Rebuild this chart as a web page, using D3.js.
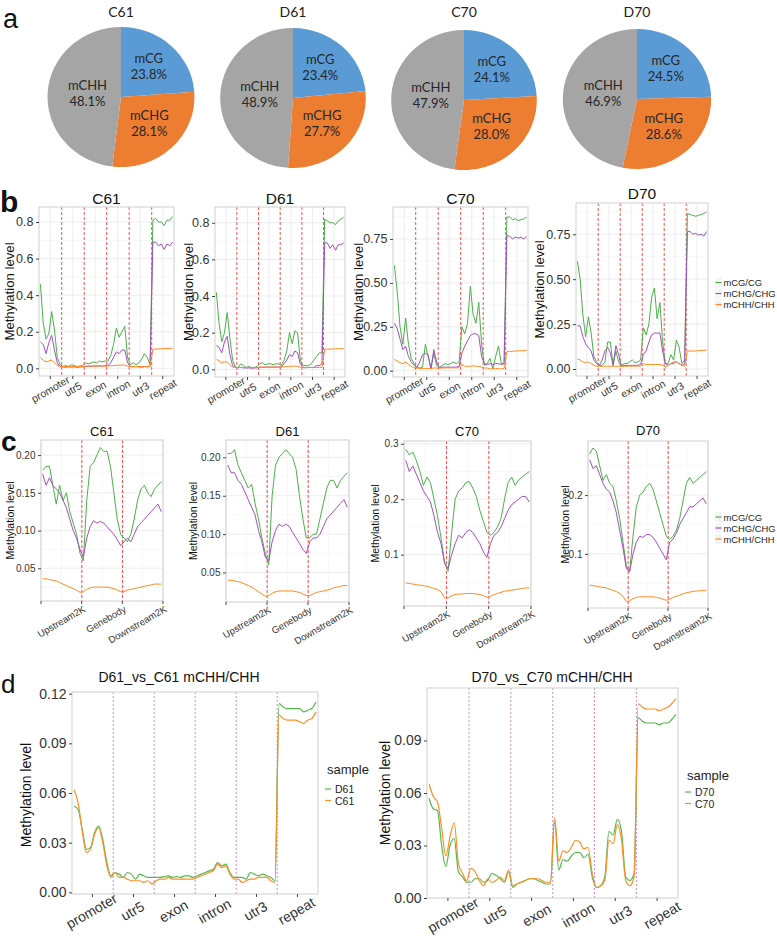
<!DOCTYPE html>
<html><head><meta charset="utf-8">
<script src="https://cdn.jsdelivr.net/npm/d3@7"></script>
<style>body{margin:0;background:#fff}svg{display:block}</style>
</head><body>
<script>
// ---------------- DATA ----------------
const pieSamples = ["C61","D61","C70","D70"];
const pieCategories = ["mCG","mCHG","mCHH"];
const pieC61 = [23.8, 28.1, 48.1];
const pieD61 = [23.4, 27.7, 48.9];
const pieC70 = [24.1, 28.0, 47.9];
const pieD70 = [24.5, 28.6, 46.9];

const featureRegions = ["promoter","utr5","exon","intron","utr3","repeat"];
const geneRegions = ["", "Upstream2K","Genebody","Downstream2K"];
const contextNames = ["mCG/CG","mCHG/CHG","mCHH/CHH"];

const bTicks61 = [0, 0.2, 0.4, 0.6, 0.8];
const bTicks70 = [0, 0.25, 0.5, 0.75];
const cTicks61 = [0.05, 0.10, 0.15, 0.20];
const cTicksC70 = [0.1, 0.2, 0.3];
const cTicksD70 = [0.1, 0.2];
const dTicksLeft = [0, 0.03, 0.06, 0.09, 0.12];
const dTicksRight = [0, 0.03, 0.06, 0.09];

// panel b (8 bins per region)
const bC61_CG = [0.46,0.25,0.16,0.19,0.31,0.21,0.06,0.02, 0.01,0.015,0.01,0.02,0.015,0.01,0.012,0.015, 0.03,0.025,0.03,0.035,0.03,0.04,0.035,0.04, 0.04,0.07,0.13,0.22,0.17,0.2,0.23,0.06, 0.02,0.03,0.02,0.03,0.05,0.08,0.06,0.02, 0.81,0.82,0.80,0.80,0.78,0.81,0.81,0.83];
const bC61_CHG = [0.145,0.13,0.08,0.14,0.18,0.1,0.03,0.01, 0.008,0.006,0.008,0.007,0.008,0.006,0.007,0.008, 0.01,0.012,0.011,0.013,0.012,0.013,0.012,0.014, 0.015,0.03,0.06,0.09,0.08,0.1,0.1,0.03, 0.01,0.008,0.01,0.008,0.006,0.01,0.008,0.01, 0.69,0.69,0.67,0.68,0.65,0.68,0.67,0.69];
const bC61_CHH = [0.06,0.045,0.035,0.04,0.045,0.03,0.015,0.012, 0.01,0.01,0.01,0.01,0.01,0.01,0.01,0.01, 0.012,0.012,0.012,0.012,0.012,0.012,0.012,0.012, 0.013,0.014,0.015,0.016,0.017,0.018,0.017,0.012, 0.01,0.01,0.01,0.01,0.01,0.01,0.01,0.01, 0.105,0.105,0.106,0.107,0.108,0.108,0.109,0.11];
const bD61_CG = [0.42,0.25,0.15,0.2,0.31,0.17,0.05,0.012, 0.01,0.03,0.02,0.01,0.015,0.01,0.01,0.015, 0.03,0.035,0.025,0.03,0.03,0.025,0.03,0.03, 0.02,0.05,0.1,0.2,0.14,0.21,0.2,0.05, 0.02,0.02,0.02,0.03,0.05,0.07,0.09,0.09, 0.82,0.81,0.80,0.80,0.79,0.81,0.82,0.83];
const bD61_CHG = [0.13,0.12,0.09,0.15,0.18,0.08,0.02,0.01, 0.008,0.01,0.008,0.007,0.008,0.006,0.007,0.008, 0.01,0.012,0.011,0.012,0.012,0.012,0.012,0.013, 0.012,0.03,0.05,0.08,0.07,0.1,0.09,0.03, 0.01,0.008,0.01,0.01,0.01,0.02,0.02,0.03, 0.69,0.69,0.66,0.68,0.65,0.68,0.68,0.69];
const bD61_CHH = [0.055,0.045,0.035,0.04,0.04,0.025,0.012,0.01, 0.01,0.01,0.01,0.01,0.01,0.01,0.01,0.01, 0.012,0.012,0.012,0.012,0.012,0.012,0.012,0.012, 0.012,0.014,0.015,0.016,0.017,0.017,0.016,0.012, 0.01,0.01,0.01,0.01,0.01,0.01,0.01,0.01, 0.11,0.11,0.11,0.111,0.112,0.112,0.113,0.113];
const bC70_CG = [0.6,0.45,0.25,0.15,0.3,0.15,0.07,0.04, 0.02,0.015,0.02,0.15,0.08,0.01,0.1,0.03, 0.02,0.03,0.04,0.035,0.04,0.05,0.04,0.05, 0.25,0.21,0.27,0.48,0.32,0.27,0.39,0.15, 0.03,0.04,0.07,0.01,0.08,0.14,0.04,0.04, 0.875,0.875,0.86,0.865,0.855,0.86,0.865,0.875];
const bC70_CHG = [0.27,0.24,0.18,0.12,0.14,0.08,0.05,0.03, 0.02,0.05,0.09,0.1,0.09,0.01,0.12,0.05, 0.015,0.02,0.02,0.02,0.02,0.02,0.02,0.025, 0.1,0.14,0.17,0.2,0.21,0.21,0.2,0.08, 0.04,0.035,0.04,0.035,0.04,0.04,0.035,0.04, 0.77,0.765,0.75,0.76,0.755,0.76,0.75,0.765];
const bC70_CHH = [0.065,0.055,0.045,0.04,0.05,0.035,0.025,0.015, 0.015,0.012,0.012,0.012,0.012,0.012,0.015,0.015, 0.015,0.015,0.015,0.016,0.016,0.016,0.016,0.017, 0.035,0.025,0.025,0.025,0.028,0.025,0.025,0.02, 0.015,0.015,0.01,0.01,0.012,0.012,0.01,0.012, 0.11,0.11,0.11,0.112,0.113,0.113,0.114,0.115];
const bD70_CG = [0.6,0.5,0.3,0.18,0.29,0.2,0.07,0.04, 0.02,0.02,0.04,0.15,0.15,0.02,0.1,0.04, 0.02,0.03,0.03,0.04,0.05,0.035,0.04,0.05, 0.23,0.19,0.25,0.4,0.45,0.28,0.37,0.15, 0.03,0.03,0.08,0.05,0.16,0.12,0.03,0.05, 0.865,0.86,0.855,0.85,0.855,0.86,0.865,0.875];
const bD70_CHG = [0.24,0.24,0.18,0.14,0.12,0.1,0.05,0.03, 0.02,0.05,0.1,0.12,0.09,0.02,0.13,0.08, 0.015,0.02,0.02,0.02,0.02,0.02,0.02,0.025, 0.08,0.1,0.15,0.19,0.2,0.2,0.2,0.1, 0.03,0.02,0.03,0.03,0.04,0.03,0.02,0.03, 0.765,0.765,0.75,0.755,0.745,0.75,0.74,0.765];
const bD70_CHH = [0.055,0.05,0.04,0.035,0.04,0.03,0.02,0.015, 0.015,0.015,0.015,0.015,0.015,0.015,0.015,0.015, 0.015,0.015,0.015,0.016,0.016,0.016,0.016,0.017, 0.03,0.025,0.025,0.025,0.025,0.025,0.025,0.02, 0.01,0.02,0.03,0.04,0.04,0.03,0.02,0.015, 0.1,0.1,0.1,0.1,0.102,0.103,0.104,0.105];

// panel c (12 bins per region)
const cC61_CG = [0.18,0.185,0.185,0.16,0.135,0.16,0.14,0.15,0.125,0.11,0.095,0.07, 0.06,0.14,0.185,0.19,0.2,0.21,0.205,0.205,0.185,0.15,0.115,0.095, 0.09,0.085,0.095,0.115,0.14,0.155,0.16,0.15,0.145,0.155,0.16,0.165];
const cC61_CHG = [0.175,0.16,0.17,0.16,0.155,0.15,0.14,0.13,0.115,0.1,0.09,0.075, 0.065,0.09,0.105,0.113,0.11,0.112,0.11,0.105,0.1,0.095,0.088,0.08, 0.085,0.09,0.085,0.095,0.105,0.11,0.115,0.12,0.125,0.13,0.135,0.125];
const cC61_CHH = [0.036,0.036,0.035,0.034,0.033,0.031,0.029,0.027,0.025,0.023,0.021,0.018, 0.019,0.022,0.024,0.025,0.025,0.025,0.025,0.025,0.024,0.023,0.021,0.019, 0.019,0.021,0.022,0.023,0.024,0.025,0.026,0.027,0.028,0.029,0.029,0.029];
const cD61_CG = [0.205,0.205,0.21,0.19,0.18,0.17,0.16,0.165,0.14,0.12,0.095,0.075, 0.06,0.15,0.19,0.2,0.205,0.21,0.205,0.2,0.185,0.15,0.12,0.095, 0.095,0.1,0.1,0.12,0.14,0.16,0.17,0.17,0.16,0.17,0.175,0.18];
const cD61_CHG = [0.19,0.18,0.18,0.17,0.165,0.155,0.145,0.135,0.125,0.105,0.09,0.07, 0.065,0.09,0.105,0.113,0.11,0.113,0.11,0.102,0.095,0.088,0.08,0.075, 0.09,0.095,0.095,0.1,0.11,0.12,0.125,0.13,0.135,0.14,0.145,0.135];
const cD61_CHH = [0.04,0.04,0.039,0.038,0.037,0.035,0.033,0.031,0.028,0.025,0.022,0.019, 0.02,0.023,0.025,0.026,0.026,0.026,0.026,0.026,0.025,0.024,0.022,0.02, 0.02,0.022,0.024,0.025,0.026,0.027,0.028,0.03,0.031,0.032,0.033,0.033];
const cC70_CG = [0.29,0.28,0.285,0.27,0.25,0.225,0.24,0.23,0.2,0.17,0.13,0.085, 0.07,0.14,0.2,0.215,0.22,0.23,0.232,0.22,0.205,0.18,0.16,0.14, 0.135,0.14,0.15,0.165,0.2,0.23,0.24,0.225,0.235,0.24,0.245,0.25];
const cC70_CHG = [0.27,0.25,0.26,0.245,0.23,0.215,0.205,0.195,0.17,0.14,0.12,0.085, 0.075,0.1,0.12,0.135,0.13,0.14,0.145,0.14,0.13,0.12,0.105,0.095, 0.12,0.135,0.14,0.15,0.165,0.18,0.19,0.195,0.2,0.205,0.205,0.195];
const cC70_CHH = [0.049,0.048,0.047,0.046,0.045,0.044,0.043,0.041,0.039,0.037,0.033,0.022, 0.022,0.026,0.028,0.029,0.029,0.03,0.03,0.03,0.029,0.028,0.026,0.023, 0.025,0.028,0.03,0.032,0.034,0.035,0.036,0.037,0.038,0.039,0.04,0.04];
const cD70_CG = [0.27,0.28,0.275,0.25,0.225,0.235,0.22,0.215,0.19,0.16,0.12,0.08, 0.07,0.13,0.18,0.2,0.205,0.215,0.22,0.21,0.19,0.17,0.15,0.13, 0.125,0.13,0.14,0.16,0.19,0.22,0.23,0.22,0.225,0.23,0.235,0.24];
const cD70_CHG = [0.26,0.245,0.25,0.235,0.22,0.21,0.205,0.19,0.17,0.14,0.11,0.075, 0.07,0.1,0.12,0.13,0.128,0.133,0.133,0.128,0.12,0.11,0.1,0.09, 0.12,0.125,0.135,0.15,0.16,0.17,0.18,0.18,0.185,0.19,0.195,0.185];
const cD70_CHH = [0.047,0.046,0.045,0.044,0.043,0.042,0.04,0.038,0.036,0.033,0.028,0.019, 0.02,0.024,0.026,0.027,0.027,0.027,0.027,0.027,0.026,0.025,0.023,0.021, 0.023,0.026,0.028,0.03,0.032,0.034,0.035,0.036,0.037,0.037,0.038,0.038];

// panel d (10 bins per region), mCHH/CHH
const dD61 = [0.052,0.05,0.038,0.026,0.027,0.036,0.04,0.032,0.018,0.01, 0.012,0.011,0.009,0.012,0.011,0.008,0.011,0.01,0.009,0.009, 0.009,0.009,0.0095,0.01,0.009,0.0095,0.009,0.01,0.01,0.009, 0.01,0.011,0.012,0.013,0.014,0.018,0.016,0.017,0.012,0.009, 0.009,0.009,0.008,0.012,0.011,0.01,0.011,0.01,0.009,0.007, 0.114,0.112,0.111,0.111,0.111,0.111,0.109,0.11,0.111,0.115];
const dC61 = [0.062,0.054,0.037,0.024,0.026,0.035,0.039,0.03,0.016,0.009, 0.012,0.009,0.009,0.008,0.007,0.007,0.007,0.006,0.007,0.005, 0.007,0.008,0.008,0.009,0.008,0.008,0.008,0.008,0.008,0.008, 0.009,0.01,0.011,0.012,0.013,0.017,0.015,0.016,0.011,0.008, 0.008,0.006,0.007,0.008,0.008,0.009,0.009,0.009,0.007,0.006, 0.107,0.105,0.104,0.104,0.104,0.103,0.102,0.104,0.105,0.109];
const dD70 = [0.057,0.051,0.05,0.03,0.018,0.03,0.034,0.015,0.012,0.009, 0.009,0.011,0.011,0.009,0.01,0.014,0.013,0.011,0.009,0.015, 0.006,0.008,0.009,0.01,0.011,0.011,0.01,0.009,0.008,0.008, 0.044,0.016,0.022,0.021,0.024,0.026,0.026,0.023,0.025,0.012, 0.006,0.007,0.012,0.038,0.036,0.045,0.038,0.012,0.01,0.014, 0.103,0.101,0.1,0.1,0.1,0.099,0.1,0.1,0.102,0.105];
const dC70 = [0.065,0.058,0.055,0.04,0.024,0.035,0.043,0.02,0.014,0.01, 0.017,0.015,0.01,0.007,0.011,0.009,0.01,0.012,0.01,0.016, 0.007,0.008,0.009,0.01,0.011,0.011,0.011,0.01,0.009,0.009, 0.046,0.021,0.027,0.026,0.029,0.033,0.032,0.028,0.029,0.014, 0.006,0.007,0.01,0.033,0.031,0.042,0.033,0.01,0.007,0.012, 0.111,0.109,0.108,0.108,0.108,0.107,0.108,0.109,0.111,0.114];

// ---------------- STYLE ----------------
const GG = "'Liberation Sans', Arial, sans-serif";
const PF = "Lato, 'Open Sans', sans-serif";
const pieColors = ["#5b9bd5", "#ed7d31", "#a5a5a5"];
const ctxColors = ["#4daf4a", "#a24fc2", "#ff8a1f"];
const dColors = ["#55b84e", "#ff8f26"];

const svg = d3.select("body").append("svg").attr("width", 777).attr("height", 939)
  .style("background", "#fff");

// panel letters
svg.append("text").attr("x", 3).attr("y", 28).text("a").attr("font-family", GG).attr("font-size", 27).attr("fill", "#111");
svg.append("text").attr("x", 0).attr("y", 212).text("b").attr("font-family", GG).attr("font-size", 30).attr("font-weight", "bold").attr("fill", "#111");
svg.append("text").attr("x", 1).attr("y", 451).text("c").attr("font-family", GG).attr("font-size", 28).attr("font-weight", "bold").attr("fill", "#111");
svg.append("text").attr("x", 1).attr("y", 693).text("d").attr("font-family", GG).attr("font-size", 26).attr("fill", "#111");

// ---------------- PIES ----------------
const pieData = [pieC61, pieD61, pieC70, pieD70];
const pieLayout = [{cx:121, cy:97, sx:1.05}, {cx:293, cy:98, sx:1.04}, {cx:464, cy:100, sx:1.04}, {cx:637, cy:99, sx:1.06}];
const pieGen = d3.pie().sort(null).value(d => d);
const arcGen = d3.arc().innerRadius(0).outerRadius(70);
const labArc = d3.arc().innerRadius(0).outerRadius(78);
pieData.forEach((vals, k) => {
  const L = pieLayout[k];
  const arcs = pieGen(vals);
  const g = svg.append("g").attr("transform", `translate(${L.cx},${L.cy}) scale(${L.sx},1)`);
  g.selectAll("path").data(arcs).join("path").attr("d", arcGen).attr("fill", (d, i) => pieColors[i]);
  svg.append("text").attr("x", L.cx).attr("y", 17).attr("text-anchor", "middle")
    .attr("font-family", PF).attr("font-size", 14).attr("fill", "#222").text(pieSamples[k]);
  arcs.forEach((a, i) => {
    let c = labArc.centroid(a);
    if (i === 2) c = [c[0] * 0.82, c[1] * 0.82];
    const tx = L.cx + c[0] * L.sx, ty = L.cy + c[1];
    const t = svg.append("text").attr("text-anchor", "middle").attr("font-family", PF)
      .attr("font-size", 13).attr("fill", "#262626");
    t.append("tspan").attr("x", tx).attr("y", ty - 5.5).text(pieCategories[i]);
    t.append("tspan").attr("x", tx).attr("y", ty + 10.5).text(vals[i].toFixed(1) + "%");
  });
});

// ---------------- GGPLOT-LIKE PANEL ----------------
function ggPanel(p) {
  const g = svg.append("g");
  const x = d3.scaleLinear().domain([0, p.nReg]).range([p.x0, p.x1]);
  const y = d3.scaleLinear().domain(p.yDomain).range([p.y1, p.y0]);
  g.append("rect").attr("x", p.x0).attr("y", p.y0).attr("width", p.x1 - p.x0).attr("height", p.y1 - p.y0).attr("fill", "#fff");
  if (p.grid) {
    const st = p.yTicks[1] - p.yTicks[0];
    const minorY = [];
    for (let v = p.yTicks[0] - st / 2; v <= p.yDomain[1]; v += st / 2) {
      if (v >= p.yDomain[0] && !p.yTicks.some(t => Math.abs(t - v) < 1e-9)) minorY.push(v);
    }
    g.selectAll(null).data(minorY).join("line").attr("x1", p.x0).attr("x2", p.x1)
      .attr("y1", d => y(d)).attr("y2", d => y(d)).attr("stroke", "#f4f4f4").attr("stroke-width", 0.6);
    g.selectAll(null).data(p.yTicks).join("line").attr("x1", p.x0).attr("x2", p.x1)
      .attr("y1", d => y(d)).attr("y2", d => y(d)).attr("stroke", "#ebebeb").attr("stroke-width", 0.9);
    g.selectAll(null).data(p.xMinor).join("line").attr("y1", p.y0).attr("y2", p.y1)
      .attr("x1", d => x(d)).attr("x2", d => x(d)).attr("stroke", "#f4f4f4").attr("stroke-width", 0.6);
    g.selectAll(null).data(p.xTicks).join("line").attr("y1", p.y0).attr("y2", p.y1)
      .attr("x1", d => x(d)).attr("x2", d => x(d)).attr("stroke", "#ebebeb").attr("stroke-width", 0.9);
  }
  // region boundaries
  g.selectAll(null).data(d3.range(1, p.nReg)).join("line")
    .attr("x1", d => x(d) + 0.2).attr("x2", d => x(d) + 0.2).attr("y1", p.y0).attr("y2", p.y1)
    .attr("stroke", p.vColor).attr("stroke-width", 0.9).attr("stroke-dasharray", p.vDash);
  // series
  const line = d3.line().x((d, i) => x(Math.floor(i / p.bins) + ((i % p.bins) + 0.5) / p.bins)).y(d => y(d))
    .curve(p.curve || d3.curveLinear);
  p.series.forEach(s => {
    g.append("path").datum(s.values).attr("d", line).attr("fill", "none")
      .attr("stroke", s.color).attr("stroke-width", p.lw).attr("stroke-linejoin", "round");
  });
  // border
  g.append("rect").attr("x", p.x0).attr("y", p.y0).attr("width", p.x1 - p.x0).attr("height", p.y1 - p.y0)
    .attr("fill", "none").attr("stroke", "#cfcfcf").attr("stroke-width", 1);
  // y axis
  const ya = g.append("g").attr("transform", `translate(${p.x0},0)`)
    .call(d3.axisLeft(y).tickValues(p.yTicks).tickFormat(d3.format(p.yFmt)).tickSize(3).tickPadding(2.5));
  ya.select(".domain").remove();
  ya.selectAll("line").attr("stroke", "#444");
  ya.selectAll("text").attr("font-family", GG).attr("font-size", p.tickFs).attr("fill", "#333");
  // x ticks and labels
  g.selectAll(null).data(p.xTicks).join("line").attr("x1", d => x(d)).attr("x2", d => x(d))
    .attr("y1", p.y1).attr("y2", p.y1 + 3).attr("stroke", "#444");
  p.xTicks.forEach((v, i) => {
    const lab = p.xLabels[i];
    if (!lab) return;
    if (p.xMode === "end") {
      g.append("text").attr("transform", `translate(${x(v) + 1},${p.y1 + 4}) rotate(-30)`)
        .attr("text-anchor", "end").attr("dy", "0.72em").attr("font-family", GG)
        .attr("font-size", p.xFs).attr("fill", "#333").text(lab);
    } else {
      g.append("text").attr("transform", `translate(${x(v) + p.xdx},${p.y1 + p.xdy}) rotate(-30)`)
        .attr("text-anchor", "middle").attr("dominant-baseline", "central").attr("font-family", GG)
        .attr("font-size", p.xFs).attr("fill", "#333").text(lab);
    }
  });
  // title
  g.append("text").attr("x", p.tx).attr("y", p.ty).attr("text-anchor", "middle").attr("dominant-baseline", "central")
    .attr("font-family", GG).attr("font-size", p.titleFs).attr("fill", "#111").text(p.title);
  // y title
  g.append("text").attr("transform", `translate(${p.yx},${p.yy !== undefined ? p.yy : (p.y0 + p.y1) / 2}) rotate(-90)`)
    .attr("text-anchor", "middle").attr("dominant-baseline", "central")
    .attr("font-family", GG).attr("font-size", p.yTitleFs).attr("fill", "#111").text("Methylation level");
}

function legend(x, rows, names, colors, fs, kw, kh) {
  names.forEach((n, i) => {
    svg.append("rect").attr("x", x).attr("y", rows[i] - kh / 2).attr("width", kw).attr("height", kh)
      .attr("fill", "#f5f5f5").attr("stroke", "#fff").attr("stroke-width", 0.5);
    svg.append("line").attr("x1", x + 0.5).attr("x2", x + kw - 0.5).attr("y1", rows[i]).attr("y2", rows[i])
      .attr("stroke", colors[i]).attr("stroke-width", 1.2);
    svg.append("text").attr("x", x + kw + 1.5).attr("y", rows[i]).attr("dominant-baseline", "central")
      .attr("font-family", GG).attr("font-size", fs).attr("fill", "#222").text(n);
  });
}

// ---------------- PANEL b ----------------
const bCommon = {nReg: 6, bins: 8, grid: true, xTicks: [0.5,1.5,2.5,3.5,4.5,5.5], xMinor: [], xLabels: featureRegions,
  xMode: "center", xdx: 0, xdy: 13, xFs: 10.5, tickFs: 12.5, titleFs: 15.5, yTitleFs: 13.2, lw: 1,
  vColor: "#ff3b3b", vDash: "3,2"};
const bPanels = [
  {title: "C61", x0: 39, y0: 207, x1: 174, y1: 376, yDomain: [-0.042, 0.882], yTicks: bTicks61, yFmt: ".1f", tx: 106.5, ty: 198, yx: 9,
   s: [bC61_CG, bC61_CHG, bC61_CHH]},
  {title: "D61", x0: 215, y0: 207, x1: 345, y1: 377, yDomain: [-0.042, 0.886], yTicks: bTicks61, yFmt: ".1f", tx: 280, ty: 198, yx: 188,
   s: [bD61_CG, bD61_CHG, bD61_CHH]},
  {title: "C70", x0: 393, y0: 207, x1: 528, y1: 377, yDomain: [-0.036, 0.932], yTicks: bTicks70, yFmt: ".2f", tx: 460.5, ty: 198, yx: 358,
   s: [bC70_CG, bC70_CHG, bC70_CHH]},
  {title: "D70", x0: 576, y0: 203, x1: 708, y1: 376, yDomain: [-0.039, 0.924], yTicks: bTicks70, yFmt: ".2f", tx: 642, ty: 193, yx: 539,
   s: [bD70_CG, bD70_CHG, bD70_CHH]}
];
bPanels.forEach(p => ggPanel(Object.assign({}, bCommon, p, {series: p.s.map((v, i) => ({values: v, color: ctxColors[i]}))})));
legend(715, [282.5, 293.5, 304.5], contextNames, ctxColors, 9.4, 7, 10.5);

// ---------------- PANEL c ----------------
const cCommon = {nReg: 3, bins: 12, grid: true, xTicks: [0,1,2,3], xMinor: [0.5,1.5,2.5], xLabels: geneRegions,
  xMode: "end", xFs: 9.6, tickFs: 10, titleFs: 13, yTitleFs: 10.5, lw: 1,
  vColor: "#ff3b3b", vDash: "3,2"};
const cPanels = [
  {title: "C61", x0: 41, y0: 440, x1: 163, y1: 601, yDomain: [0.0066, 0.22], yTicks: cTicks61, yFmt: ".2f", tx: 102, ty: 431, yx: 10,
   s: [cC61_CG, cC61_CHG, cC61_CHH]},
  {title: "D61", x0: 226, y0: 440, x1: 349, y1: 602, yDomain: [0.0116, 0.2226], yTicks: cTicks61, yFmt: ".2f", tx: 287.5, ty: 431, yx: 193,
   s: [cD61_CG, cD61_CHG, cD61_CHH]},
  {title: "C70", x0: 404, y0: 441, x1: 531, y1: 606, yDomain: [0.0074, 0.305], yTicks: cTicksC70, yFmt: ".1f", tx: 467, ty: 431, yx: 375,
   s: [cC70_CG, cC70_CHG, cC70_CHH]},
  {title: "D70", x0: 588, y0: 441, x1: 708, y1: 608, yDomain: [0.008, 0.292], yTicks: cTicksD70, yFmt: ".1f", tx: 648, ty: 430, yx: 565,
   s: [cD70_CG, cD70_CHG, cD70_CHH]}
];
cPanels.forEach(p => ggPanel(Object.assign({}, cCommon, p, {series: p.s.map((v, i) => ({values: v, color: ctxColors[i]}))})));
legend(715, [517, 528, 539], contextNames, ctxColors, 9.4, 7, 11);

// ---------------- PANEL d ----------------
const dCommon = {nReg: 6, bins: 10, grid: false, xTicks: [0.5,1.5,2.5,3.5,4.5,5.5], xMinor: [], xLabels: featureRegions,
  xMode: "center", xFs: 14, tickFs: 14, titleFs: 14, yTitleFs: 14, lw: 1.2,
  vColor: "#c97ddf", vDash: "2,2", curve: d3.curveMonotoneX};
ggPanel(Object.assign({}, dCommon, {title: "D61_vs_C61 mCHH/CHH", x0: 72, y0: 692, x1: 318, y1: 894,
  yDomain: [-0.001, 0.121], yTicks: dTicksLeft, yFmt: ".2f", tx: 179, ty: 677, yx: 26, yy: 795, xdx: -1, xdy: 17,
  series: [{values: dD61, color: dColors[0]}, {values: dC61, color: dColors[1]}]}));
ggPanel(Object.assign({}, dCommon, {title: "D70_vs_C70 mCHH/CHH", x0: 427, y0: 688, x1: 678, y1: 898,
  yDomain: [0, 0.12], yTicks: dTicksRight, yFmt: ".2f", tx: 552, ty: 677, yx: 385, xdx: 5, xdy: 17,
  series: [{values: dD70, color: dColors[0]}, {values: dC70, color: dColors[1]}]}));

// d legends
function sampleLegend(x, ty, rows, names) {
  svg.append("text").attr("x", x + 2).attr("y", ty).attr("dominant-baseline", "central")
    .attr("font-family", GG).attr("font-size", 13).attr("fill", "#222").text("sample");
  names.forEach((n, i) => {
    svg.append("line").attr("x1", x).attr("x2", x + 6).attr("y1", rows[i]).attr("y2", rows[i])
      .attr("stroke", dColors[i]).attr("stroke-width", 1.2);
    svg.append("text").attr("x", x + 10).attr("y", rows[i]).attr("dominant-baseline", "central")
      .attr("font-family", GG).attr("font-size", 10.5).attr("fill", "#222").text(n);
  });
}
sampleLegend(325, 769, [789, 800.5], ["D61", "C61"]);
sampleLegend(685, 775, [792, 803.5], ["D70", "C70"]);
</script>
</body></html>
